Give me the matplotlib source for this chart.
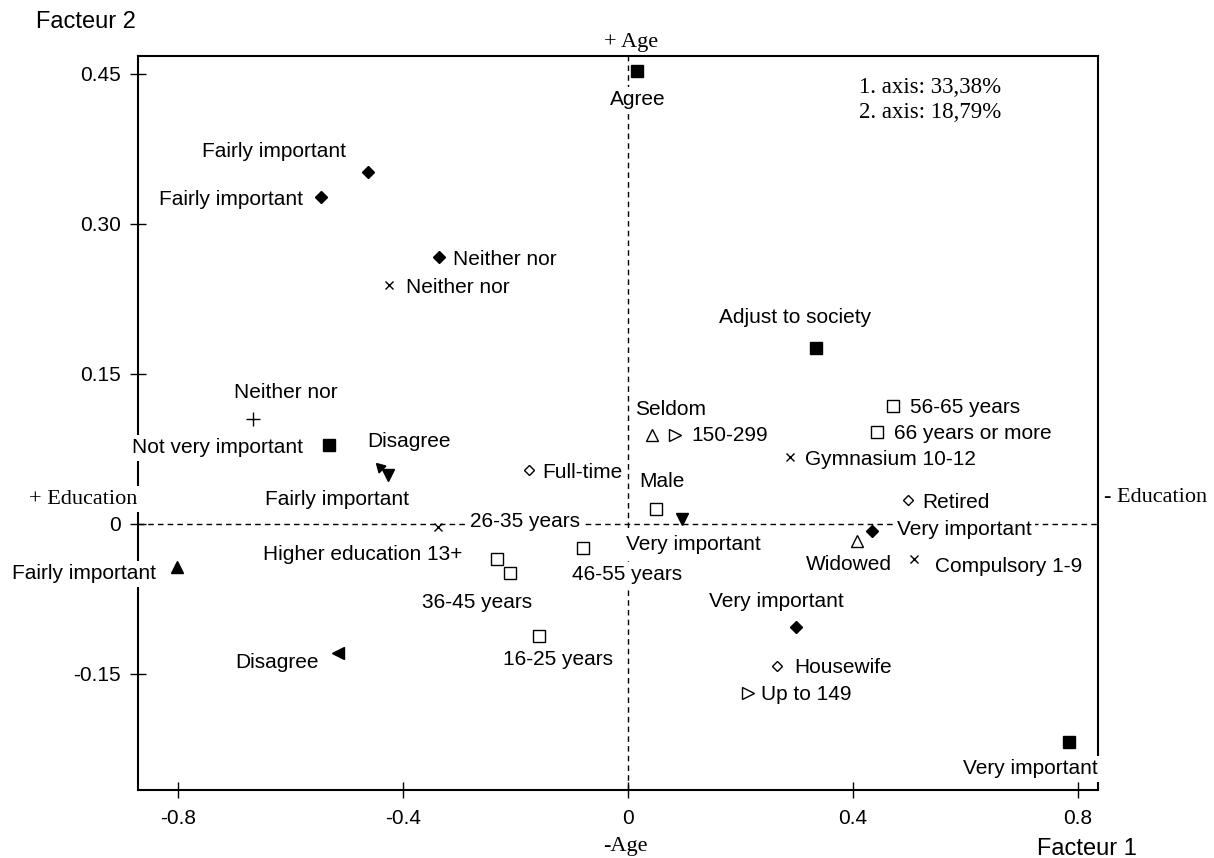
import matplotlib.pyplot as plt

# ===========================
# 1) DATA (factor coordinates read off the chart)
# ===========================
labels = [
    "Agree", "Fairly important", "Fairly important", "Neither nor", "Neither nor",
    "Adjust to society", "Neither nor", "Not very important", "Disagree", "Fairly important",
    "Seldom", "150-299", "Gymnasium 10-12", "56-65 years", "66 years or more",
    "Full-time", "Male", "Very important", "Retired", "Very important",
    "Widowed", "Compulsory 1-9", "26-35 years", "Higher education 13+", "46-55 years",
    "36-45 years", "Fairly important", "16-25 years", "Very important", "Disagree",
    "Housewife", "Up to 149", "Very important",
]
f1 = [
    0.016, -0.462, -0.546, -0.336, -0.425,
    0.334, -0.667, -0.532, -0.441, -0.427,
    0.043, 0.084, 0.288, 0.471, 0.443,
    -0.176, 0.050, 0.096, 0.498, 0.434,
    0.407, 0.508, -0.338, -0.233, -0.080,
    -0.210, -0.802, -0.158, 0.299, -0.516,
    0.265, 0.213, 0.784,
]
f2 = [
    0.453, 0.352, 0.327, 0.267, 0.239,
    0.176, 0.105, 0.079, 0.057, 0.049,
    0.089, 0.089, 0.067, 0.118, 0.092,
    0.054, 0.015, 0.005, 0.024, -0.007,
    -0.017, -0.035, -0.003, -0.035, -0.024,
    -0.049, -0.043, -0.112, -0.103, -0.129,
    -0.142, -0.169, -0.218,
]
inertia = ["1. axis: 33,38%", "2. axis: 18,79%"]
xticks = [-0.8, -0.4, 0, 0.4, 0.8]
yticks = [-0.15, 0, 0.15, 0.30, 0.45]
yticklabels = ["-0.15", "0", "0.15", "0.30", "0.45"]

# ===========================
# 2) STYLE: marker per point and label offset (pixels, text centre)
# ===========================
sq_f = dict(marker="s", ms=8, mfc="black", mec="black")
dia_f = dict(marker="D", ms=6, mfc="black", mec="black")
sq_o = dict(marker="s", ms=8, mfc="white", mec="black", mew=1)
dia_o = dict(marker="D", ms=5, mfc="white", mec="black", mew=1)
tri_o = dict(marker="^", ms=8, mfc="white", mec="black", mew=1)
rtri_o = dict(marker=">", ms=8, mfc="white", mec="black", mew=1)
down_f = dict(marker="v", ms=8, mfc="black", mec="black")
up_f = dict(marker="^", ms=8, mfc="black", mec="black")
left_f = dict(marker="<", ms=8, mfc="black", mec="black")
arrow_f = dict(marker=(3, 0, 45), ms=8, mfc="black", mec="black")
cross = dict(marker="x", ms=6, mec="black", mew=1)
plus = dict(marker="+", ms=10, mec="black", mew=1)

styles = [
    sq_f, dia_f, dia_f, dia_f, cross,
    sq_f, plus, sq_f, arrow_f, down_f,
    tri_o, rtri_o, cross, sq_o, sq_o,
    dia_o, sq_o, down_f, dia_o, dia_f,
    tri_o, cross, cross, sq_o, sq_o,
    sq_o, up_f, sq_o, dia_f, left_f,
    dia_o, rtri_o, sq_f,
]
offsets = [
    (1, -29), (-94, 20), (-90, -3), (66, -3), (69, -3),
    (-21, 30), (33, 26), (-111, -3), (29, 25), (-51, -25),
    (18, 25), (54, -1), (100, -3), (72, -2), (96, -2),
    (53, -3), (6, 27), (11, -26), (48, -3), (92, 1),
    (-8, -24), (95, -8), (87, 5), (-134, 4), (44, -27),
    (-33, -30), (-93, -7), (19, -24), (-20, 25), (-61, -10),
    (66, -2), (58, -2), (-39, -27),
]

# ===========================
# 3) FIGURE
# ===========================
plt.rcParams["font.family"] = ["Liberation Sans", "DejaVu Sans"]
fig = plt.figure(figsize=(12.14, 8.58), dpi=100)
ax = fig.add_axes([0.1137, 0.0793, 0.7908, 0.8555])
ax.set_xlim(-0.8711, 0.8356)
ax.set_ylim(-0.266, 0.468)

ax.axhline(0, color="black", lw=1, ls=(0, (4, 3)), zorder=1)
ax.axvline(0, color="black", lw=1, ls=(0, (4, 3)), zorder=1)

box = dict(boxstyle="square,pad=0.15", fc="white", ec="none")
for lab, x, y, st, off in zip(labels, f1, f2, styles, offsets):
    ax.plot([x], [y], ls="none", zorder=6, clip_on=False, **st)
    ax.annotate(lab, (x, y), xytext=off, textcoords="offset pixels",
                ha="center", va="center", fontsize=15, bbox=box,
                zorder=5, annotation_clip=False)

for sp in ax.spines.values():
    sp.set_linewidth(1.5)
    sp.set_zorder(2)

ax.set_xticks(xticks)
ax.set_xticklabels([str(t) for t in xticks])
ax.set_yticks(yticks)
ax.set_yticklabels(yticklabels)
ax.tick_params(direction="inout", length=11, width=1, labelsize=15)
ax.tick_params(axis="x", pad=8)
ax.tick_params(axis="y", pad=7)

W, H = 1214, 858
fig.text(86 / W, 1 - 22 / H, "Facteur 2", fontsize=17, ha="center", va="center")
fig.text(1087 / W, 1 - 849 / H, "Facteur 1", fontsize=17, ha="center", va="center")

serif = ["Liberation Serif", "DejaVu Serif"]
sbox = dict(boxstyle="square,pad=0.15", fc="white", ec="none")
fig.text(631 / W, 1 - 43 / H, "+ Age", family=serif, fontsize=16, ha="center", va="center")
fig.text(625 / W, 1 - 846 / H, "-Age", family=serif, fontsize=16, ha="center", va="center")
ax.text(83 / W, 1 - 499 / H, "+ Education", family=serif, fontsize=16, ha="center",
        va="center", transform=fig.transFigure, bbox=sbox, zorder=5, clip_on=False)
ax.text(1156 / W, 1 - 498 / H, "- Education", family=serif, fontsize=16, ha="center",
        va="center", transform=fig.transFigure, bbox=sbox, zorder=5, clip_on=False)
fig.text(859 / W, 1 - 100 / H, "\n".join(inertia), family=serif, fontsize=16.5,
         ha="left", va="center", linespacing=1.25)

fig.savefig("out.png", dpi=100)
